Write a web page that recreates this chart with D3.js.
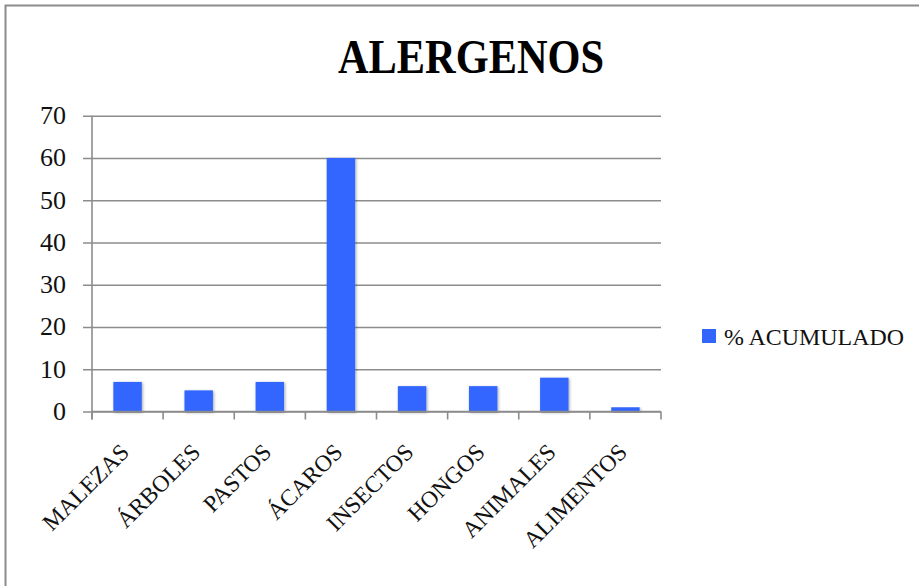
<!DOCTYPE html>
<html>
<head>
<meta charset="utf-8">
<script src="https://cdn.jsdelivr.net/npm/d3@7"></script>
<style>
  html, body { margin: 0; padding: 0; background: #fff; }
  svg { display: block; }
</style>
</head>
<body>
<svg id="chart" width="919" height="586"></svg>
<script>
// Allergen categories and their accumulated percentage
const categories = ["MALEZAS", "ÁRBOLES", "PASTOS", "ÁCAROS", "INSECTOS", "HONGOS", "ANIMALES", "ALIMENTOS"];
const values = [7, 5, 7, 60, 6, 6, 8, 1];
const yTicks = [0, 10, 20, 30, 40, 50, 60, 70];
const seriesName = "% ACUMULADO";
const chartTitle = "ALERGENOS";

const svg = d3.select("#chart");
const W = 919, H = 586;
const plotLeft = 92, plotRight = 661, plotTop = 115.7, plotBottom = 411.5;
const font = "'Liberation Serif', 'Times New Roman', serif";
const barColor = "#3366ff";
const gridColor = "#8c8c8c";

// Outer frame (runs past the right and bottom edges)
svg.append("rect")
  .attr("x", 5.5).attr("y", 5.5)
  .attr("width", W + 10).attr("height", H + 10)
  .attr("fill", "#fff").attr("stroke", gridColor).attr("stroke-width", 2);

// Soft shadow for the bars
const defs = svg.append("defs");
const f = defs.append("filter").attr("id", "shadow")
  .attr("x", "-30%").attr("y", "-10%").attr("width", "160%").attr("height", "130%");
f.append("feGaussianBlur").attr("in", "SourceAlpha").attr("stdDeviation", 1.6).attr("result", "b");
f.append("feOffset").attr("in", "b").attr("dx", 1).attr("dy", 1).attr("result", "o");
f.append("feComponentTransfer").attr("in", "o").attr("result", "s")
  .append("feFuncA").attr("type", "linear").attr("slope", 0.35);
const m = f.append("feMerge");
m.append("feMergeNode").attr("in", "s");
m.append("feMergeNode").attr("in", "SourceGraphic");

const x = d3.scaleBand().domain(categories).range([plotLeft, plotRight]).paddingInner(0.6).paddingOuter(0.3);
const xb = d3.scaleBand().domain(categories).range([plotLeft, plotRight]);
const y = d3.scaleLinear().domain([0, 70]).range([plotBottom, plotTop]);

// Horizontal gridlines with ticks
const yAxis = d3.axisLeft(y).tickValues(yTicks).tickSize(-(plotRight - plotLeft)).tickPadding(0).tickFormat("");
const gy = svg.append("g").attr("transform", `translate(${plotLeft},0)`).call(yAxis);
gy.select(".domain").remove();
gy.selectAll(".tick line")
  .attr("x1", -9).attr("x2", plotRight - plotLeft)
  .attr("stroke", gridColor).attr("stroke-width", 1.6);

// Y tick labels
svg.append("g").selectAll("text").data(yTicks).join("text")
  .attr("x", 66).attr("y", d => y(d) + 8.5)
  .attr("text-anchor", "end")
  .attr("font-family", font).attr("font-size", 26).attr("fill", "#111")
  .text(d => d);

// Vertical axis line
svg.append("line")
  .attr("x1", plotLeft).attr("x2", plotLeft).attr("y1", plotTop).attr("y2", plotBottom + 8)
  .attr("stroke", gridColor).attr("stroke-width", 1.6);

// Category boundary ticks below the baseline
const bounds = categories.map(c => xb(c)).concat([plotRight]);
svg.append("g").selectAll("line").data(bounds).join("line")
  .attr("x1", d => d).attr("x2", d => d)
  .attr("y1", plotBottom).attr("y2", plotBottom + 8)
  .attr("stroke", gridColor).attr("stroke-width", 1.6);

// Bars
svg.append("g").selectAll("rect").data(values).join("rect")
  .attr("x", (d, i) => x(categories[i]))
  .attr("width", x.bandwidth())
  .attr("y", d => y(d))
  .attr("height", d => y(0) - y(d))
  .attr("fill", barColor)
  .attr("filter", "url(#shadow)");

// Baseline redrawn over bar bottoms
svg.append("line")
  .attr("x1", plotLeft).attr("x2", plotRight).attr("y1", plotBottom).attr("y2", plotBottom)
  .attr("stroke", gridColor).attr("stroke-width", 1.6);

// Rotated category labels
svg.append("g").selectAll("text").data(categories).join("text")
  .attr("transform", c => `translate(${xb(c) + xb.bandwidth() / 2 + 3},${plotBottom + 42}) rotate(-45)`)
  .attr("text-anchor", "end")
  .attr("font-family", font).attr("font-size", 23.5).attr("fill", "#111")
  .text(c => c);

// Title
svg.append("text")
  .attr("x", 471).attr("y", 73)
  .attr("text-anchor", "middle")
  .attr("font-family", font).attr("font-weight", "bold").attr("font-size", 49)
  .attr("textLength", 266).attr("lengthAdjust", "spacingAndGlyphs")
  .attr("fill", "#000")
  .text(chartTitle);

// Legend
svg.append("rect").attr("x", 702).attr("y", 329).attr("width", 14).attr("height", 14).attr("fill", barColor);
svg.append("text")
  .attr("x", 724).attr("y", 345)
  .attr("font-family", font).attr("font-size", 23).attr("fill", "#111")
  .attr("textLength", 180).attr("lengthAdjust", "spacingAndGlyphs")
  .text(seriesName);
</script>
</body>
</html>
